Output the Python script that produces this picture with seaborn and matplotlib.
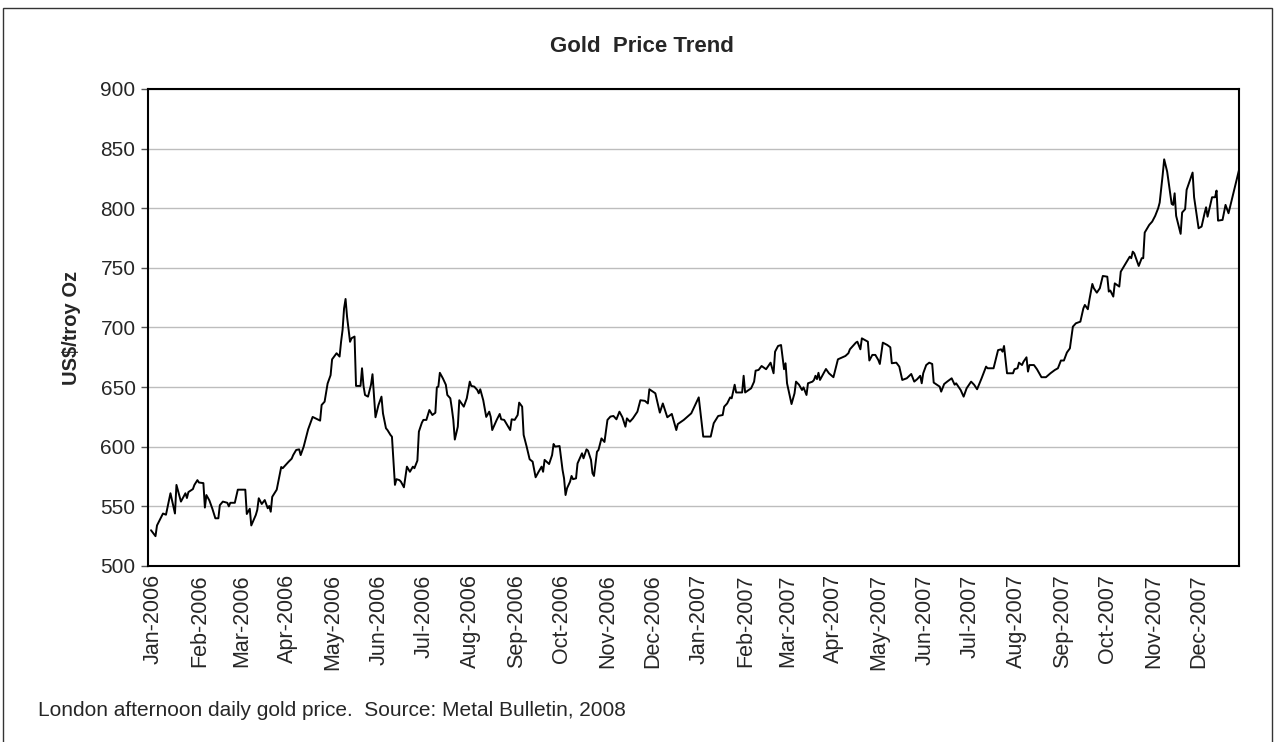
import pandas as pd
import numpy as np
from matplotlib import pyplot as plt
import matplotlib.dates as mdates
from matplotlib.patches import Rectangle
from matplotlib.transforms import ScaledTranslation
import seaborn as sns

# London PM gold fix, US$/troy oz
dates_2006 = [
    "2006-01-03", "2006-01-06", "2006-01-07", "2006-01-11", "2006-01-13", "2006-01-16", "2006-01-19",
    "2006-01-20", "2006-01-23", "2006-01-26", "2006-01-27", "2006-01-28", "2006-01-31",
    "2006-02-01", "2006-02-03", "2006-02-04", "2006-02-07", "2006-02-08", "2006-02-09", "2006-02-11",
    "2006-02-13", "2006-02-15", "2006-02-17", "2006-02-18", "2006-02-20", "2006-02-23", "2006-02-24",
    "2006-02-25", "2006-02-28",
    "2006-03-02", "2006-03-05", "2006-03-07", "2006-03-08", "2006-03-10", "2006-03-11", "2006-03-14",
    "2006-03-15", "2006-03-16", "2006-03-18", "2006-03-20", "2006-03-22", "2006-03-23", "2006-03-24",
    "2006-03-25", "2006-03-28", "2006-03-31",
    "2006-04-01", "2006-04-05", "2006-04-07", "2006-04-08", "2006-04-10", "2006-04-12", "2006-04-13",
    "2006-04-15", "2006-04-18", "2006-04-21", "2006-04-26", "2006-04-27", "2006-04-29",
    "2006-05-01", "2006-05-03", "2006-05-04", "2006-05-05", "2006-05-07", "2006-05-09", "2006-05-10",
    "2006-05-11", "2006-05-12", "2006-05-13", "2006-05-14", "2006-05-16", "2006-05-17", "2006-05-19",
    "2006-05-20", "2006-05-23", "2006-05-24", "2006-05-25", "2006-05-26", "2006-05-28", "2006-05-30",
    "2006-05-31",
    "2006-06-02", "2006-06-04", "2006-06-06", "2006-06-07", "2006-06-09", "2006-06-10", "2006-06-12",
    "2006-06-13", "2006-06-15", "2006-06-16", "2006-06-18", "2006-06-19", "2006-06-21", "2006-06-23",
    "2006-06-25", "2006-06-27", "2006-06-28", "2006-06-30",
    "2006-07-01", "2006-07-03", "2006-07-04", "2006-07-06", "2006-07-08", "2006-07-10", "2006-07-12",
    "2006-07-13", "2006-07-14", "2006-07-15", "2006-07-17", "2006-07-19", "2006-07-20", "2006-07-22",
    "2006-07-23", "2006-07-24", "2006-07-25", "2006-07-27", "2006-07-28", "2006-07-31",
    "2006-08-02", "2006-08-04", "2006-08-05", "2006-08-07", "2006-08-09", "2006-08-10", "2006-08-11",
    "2006-08-13", "2006-08-15", "2006-08-17", "2006-08-18", "2006-08-19", "2006-08-22", "2006-08-24",
    "2006-08-25", "2006-08-27", "2006-08-31",
    "2006-09-01", "2006-09-03", "2006-09-05", "2006-09-06", "2006-09-08", "2006-09-09", "2006-09-11",
    "2006-09-13", "2006-09-15", "2006-09-17", "2006-09-19", "2006-09-21", "2006-09-22", "2006-09-23",
    "2006-09-26", "2006-09-28", "2006-09-29", "2006-09-30",
    "2006-10-03", "2006-10-05", "2006-10-06", "2006-10-07", "2006-10-08", "2006-10-10", "2006-10-11",
    "2006-10-12", "2006-10-14", "2006-10-15", "2006-10-17", "2006-10-18", "2006-10-19", "2006-10-21",
    "2006-10-22", "2006-10-24", "2006-10-25", "2006-10-26", "2006-10-28", "2006-10-29", "2006-10-31",
    "2006-11-02", "2006-11-04", "2006-11-06", "2006-11-08", "2006-11-10", "2006-11-12", "2006-11-14",
    "2006-11-16", "2006-11-17", "2006-11-19", "2006-11-21", "2006-11-24", "2006-11-26", "2006-11-29",
    "2006-12-01", "2006-12-02", "2006-12-06", "2006-12-09", "2006-12-11", "2006-12-14", "2006-12-17",
    "2006-12-20", "2006-12-21", "2006-12-25", "2006-12-30",
]
usd_2006 = [
    530, 525, 534, 544, 543, 561, 544,
    568, 554, 561, 557, 562, 564.5,
    568, 572, 570, 569.5, 549, 559.5, 555,
    548, 540, 540, 551, 554, 553, 550,
    553, 553,
    564, 564, 564, 543.6, 548, 534, 542.7,
    547, 556.8, 552, 555.3, 548.4, 550.3, 545.5,
    558, 564, 583,
    582, 587.5, 590, 593, 597.3, 597.8, 593,
    600, 614.6, 625, 621.9, 635, 637.8,
    653, 660, 673.3, 675, 678.4, 675.6, 688,
    697.9, 716, 723.9, 709, 688, 691, 692.4,
    651, 651, 665.8, 651, 643.4, 642, 652,
    660.8,
    624.7, 635, 642, 628, 615.5, 614, 609.9,
    608.4, 568, 572.8, 572, 570.7, 566, 583.3,
    579, 583.3, 582, 588.4,
    612.7, 620.2, 622.5, 622.5, 630.8, 626.6, 628.5,
    649.8, 650.4, 662, 657.4, 652, 643.4, 640.6,
    632.2, 622.5, 606, 616.8, 639, 633.6,
    640.6, 654.6, 651, 650.4, 647.6, 644.8, 648.2,
    639, 625, 629.4, 625, 614, 622.5, 627.5,
    623, 622.5, 614,
    623, 622.5, 626.6, 637, 633.6, 609.9, 600.1,
    589.5, 587.5, 574.4, 579, 583.3, 579, 589,
    585.5, 593, 602.3, 600.1,
    600.6, 580.5, 573.5, 559.5, 565.2, 570.7, 575.5,
    572.8, 573.5, 586, 591.6, 594.5, 590.3, 597.8,
    596.7, 589, 577.8, 575.5, 595.8, 597.3, 607,
    604, 622.5, 625.3, 625.8, 623, 629.4, 624.7,
    616.8, 623.8, 621, 623.8, 629.4, 639, 638.5,
    636.3, 648.2, 644.8, 628.6, 636.3, 624.7, 627.5,
    614, 619, 622.5, 628,
]

dates_2007 = [
    "2007-01-04", "2007-01-07", "2007-01-12", "2007-01-14", "2007-01-17", "2007-01-20", "2007-01-21",
    "2007-01-23", "2007-01-25", "2007-01-26", "2007-01-28", "2007-01-29",
    "2007-02-02", "2007-02-03", "2007-02-04", "2007-02-08", "2007-02-10", "2007-02-11", "2007-02-13",
    "2007-02-15", "2007-02-18", "2007-02-21", "2007-02-23", "2007-02-24", "2007-02-26", "2007-02-28",
    "2007-03-02", "2007-03-03", "2007-03-04", "2007-03-07", "2007-03-09", "2007-03-10", "2007-03-12",
    "2007-03-14", "2007-03-15", "2007-03-17", "2007-03-18", "2007-03-21", "2007-03-22", "2007-03-23",
    "2007-03-24", "2007-03-25", "2007-03-26", "2007-03-30",
    "2007-04-01", "2007-04-04", "2007-04-07", "2007-04-12", "2007-04-14", "2007-04-15", "2007-04-19",
    "2007-04-20", "2007-04-22", "2007-04-23", "2007-04-27", "2007-04-28", "2007-04-30",
    "2007-05-02", "2007-05-04", "2007-05-05", "2007-05-07", "2007-05-10", "2007-05-12", "2007-05-13",
    "2007-05-16", "2007-05-18", "2007-05-20", "2007-05-23", "2007-05-26", "2007-05-28", "2007-05-30",
    "2007-06-01", "2007-06-02", "2007-06-03", "2007-06-05", "2007-06-07", "2007-06-09", "2007-06-10",
    "2007-06-14", "2007-06-15", "2007-06-17", "2007-06-19", "2007-06-22", "2007-06-24", "2007-06-25",
    "2007-06-28", "2007-06-30",
    "2007-07-02", "2007-07-05", "2007-07-07", "2007-07-09", "2007-07-12", "2007-07-15", "2007-07-16",
    "2007-07-20", "2007-07-23", "2007-07-25", "2007-07-26", "2007-07-27", "2007-07-29",
    "2007-08-02", "2007-08-03", "2007-08-05", "2007-08-06", "2007-08-08", "2007-08-09", "2007-08-11",
    "2007-08-12", "2007-08-13", "2007-08-16", "2007-08-18", "2007-08-21", "2007-08-24", "2007-08-27",
    "2007-08-30",
    "2007-09-01", "2007-09-03", "2007-09-05", "2007-09-07", "2007-09-09", "2007-09-11", "2007-09-13",
    "2007-09-16", "2007-09-18", "2007-09-19", "2007-09-21", "2007-09-22", "2007-09-24", "2007-09-25",
    "2007-09-27", "2007-09-29",
    "2007-10-01", "2007-10-04", "2007-10-05", "2007-10-06", "2007-10-08", "2007-10-09", "2007-10-12",
    "2007-10-13", "2007-10-15", "2007-10-17", "2007-10-19", "2007-10-20", "2007-10-21", "2007-10-22",
    "2007-10-25", "2007-10-27", "2007-10-28", "2007-10-29",
    "2007-11-01", "2007-11-03", "2007-11-05", "2007-11-07", "2007-11-08", "2007-11-10", "2007-11-11",
    "2007-11-13", "2007-11-16", "2007-11-17", "2007-11-18", "2007-11-19", "2007-11-22", "2007-11-23",
    "2007-11-25", "2007-11-26", "2007-11-30",
    "2007-12-01", "2007-12-04", "2007-12-06", "2007-12-08", "2007-12-09", "2007-12-10", "2007-12-13",
    "2007-12-15", "2007-12-16", "2007-12-17", "2007-12-20", "2007-12-22", "2007-12-24", "2007-12-31",
]
usd_2007 = [
    641.4, 608.5, 608.5, 619.7, 625.8, 626.6, 633.6,
    636.3, 641.4, 640.6, 652, 645.5,
    645.5, 659.5, 645.5, 649, 654.6, 663.8, 664.4,
    667.7, 665, 670.5, 661.6, 679.7, 684.5, 685.3,
    665, 670, 653.2, 635.8, 644.8, 654.6, 652,
    647.6, 649.8, 643.4, 653.2, 654.6, 656, 659.5,
    656.7, 662, 656, 665.2,
    661.6, 658.3, 673.3, 676.1, 678.4, 681.7, 687.3,
    688.1, 681.7, 690.9, 688.1, 672.3, 677,
    677, 672.7, 669.4, 687.3, 685.3, 683.4, 670,
    670.5, 667.2, 656, 657.4, 661, 654.6, 656.7,
    659.5, 653.2, 661.6, 668.5, 670.5, 669.4, 653.8,
    650.4, 646.2, 652.6, 654.6, 657.4, 652, 653.2,
    647.6, 642,
    649, 654.6, 652, 648.2, 657.4, 667.2, 665.8,
    665.8, 681, 681.7, 679.7, 684.5, 661.6,
    661.6, 665, 665.8, 670.5, 668.5, 671.3, 675,
    663, 668.5, 668.5, 665, 658.3, 658.3, 661.6,
    664.4,
    665.8, 672.3, 672.3, 679, 682.5, 700.7, 703.5,
    704.9, 716, 718.9, 715.3, 723, 736.5, 732.9,
    729.2, 732.9,
    743.2, 742.6, 730.1, 731, 725.9, 737, 734.3,
    746.8, 751, 755.2, 759.4, 758.1, 763.6, 762.2,
    751.6, 758.1, 758.1, 779.6,
    786, 788.8, 793.6, 800, 804.7, 827.9, 841,
    830.7, 803.6, 802.8, 812.5, 793.6, 778.5, 796.4,
    799.2, 815.4, 829.9,
    809.2, 783.2, 784.6, 795.8, 800.8, 792.9, 809.2,
    809.2, 814.8, 789.6, 790.2, 802.8, 795.8, 832,
]

df = pd.DataFrame({
    "date": pd.to_datetime(dates_2006 + dates_2007),
    "price": usd_2006 + usd_2007,
})

sns.set_theme(style="white")
plt.rcParams["font.family"] = ["Liberation Sans", "DejaVu Sans"]

fig = plt.figure(figsize=(12.76, 7.42), dpi=100)
ax = fig.add_axes([0.116, 0.2372, 0.855, 0.6429])

sns.lineplot(data=df, x="date", y="price", color="black", linewidth=1.4, ax=ax)

ax.set_xlim(pd.Timestamp("2006-01-01"), pd.Timestamp("2007-12-31"))
ax.set_ylim(500, 900)
ax.set_yticks(np.arange(500, 901, 50))
ax.yaxis.grid(True, color="#bdbdbd", linewidth=1)
ax.xaxis.grid(False)

ax.xaxis.set_major_locator(mdates.MonthLocator())
ax.xaxis.set_major_formatter(mdates.DateFormatter("%b-%Y"))
ax.tick_params(axis="x", length=0, pad=6, labelsize=15.5, labelrotation=90)
ax.tick_params(axis="y", left=True, length=5, width=1, color="#555555", pad=4, labelsize=15)

# Excel puts the month labels a few pixels right of the month start
shift = ScaledTranslation(5 / 100, 0, fig.dpi_scale_trans)
for lab in ax.get_xticklabels():
    lab.set_transform(lab.get_transform() + shift)

for s in ax.spines.values():
    s.set_color("black")
    s.set_linewidth(1.5)

ax.set_xlabel("")
ax.set_ylabel("US$/troy Oz", fontsize=14.5, fontweight="bold")
ax.yaxis.set_label_coords(-0.061, 0.5)

fig.text(0.503, 0.937, "Gold  Price Trend", ha="center", va="center",
         fontsize=16, fontweight="bold")
fig.text(0.0298, 0.043, "London afternoon daily gold price.  Source: Metal Bulletin, 2008",
         ha="left", va="center", fontsize=15)

# outer chart-area frame
fig.patches.append(Rectangle((0.0024, -0.02), 0.9945, 1.0092, transform=fig.transFigure,
                             fill=False, edgecolor="#333333", linewidth=1))

fig.savefig("out.png", dpi=100)
